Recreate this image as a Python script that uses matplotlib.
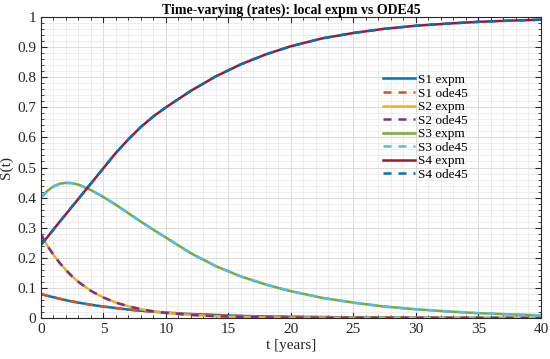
import matplotlib
matplotlib.use("Agg")
import matplotlib.pyplot as plt
from matplotlib.ticker import MultipleLocator, FuncFormatter

plt.rcParams['font.family'] = ['Liberation Serif', 'DejaVu Serif']

# time grid (years) and the four states
t = [0, 0.5, 1, 1.5, 2, 2.5, 3, 4, 5, 6, 7, 8, 9, 10, 12, 14, 16, 18, 20,
     22.5, 25, 27.5, 30, 32.5, 35, 37.5, 40]

s1 = [0.080, 0.074, 0.069, 0.064, 0.059, 0.055, 0.051, 0.044, 0.038, 0.033,
      0.028, 0.024, 0.021, 0.018, 0.013, 0.010, 0.007, 0.005, 0.004,
      0.003, 0.002, 0.0015, 0.001, 0.0008, 0.0006, 0.0004, 0.0003]
s2 = [0.278, 0.241, 0.210, 0.183, 0.159, 0.138, 0.120, 0.090, 0.068, 0.051,
      0.039, 0.029, 0.022, 0.017, 0.010, 0.006, 0.004, 0.002, 0.0015,
      0.001, 0.0007, 0.0005, 0.0004, 0.0003, 0.0002, 0.0002, 0.0001]
s3 = [0.400, 0.422, 0.437, 0.446, 0.449, 0.448, 0.443, 0.425, 0.402, 0.376,
      0.348, 0.320, 0.293, 0.267, 0.215, 0.172, 0.138, 0.111, 0.089,
      0.067, 0.051, 0.038, 0.029, 0.022, 0.016, 0.012, 0.009]
s4 = [0.243, 0.268, 0.294, 0.320, 0.345, 0.371, 0.396, 0.447, 0.498, 0.549,
      0.594, 0.635, 0.670, 0.700, 0.755, 0.803, 0.843, 0.876, 0.903,
      0.929, 0.947, 0.961, 0.971, 0.978, 0.984, 0.988, 0.991]

series = [s1, s2, s3, s4]
names = ["S1", "S2", "S3", "S4"]
solid_colors = ["#0072BD", "#EDB120", "#77AC30", "#A2142F"]
dash_colors = ["#D95319", "#7E2F8E", "#4DBEEE", "#0072BD"]

fig = plt.figure(figsize=(5.5, 3.59), dpi=100)
ax = fig.add_axes([0.0745, 0.1142, 0.909, 0.8384])

lw = 1.8
for s, name, c1, c2 in zip(series, names, solid_colors, dash_colors):
    ax.plot(t, s, color=c1, lw=lw, label=name + " expm")
    ax.plot(t, s, color=c2, lw=lw, dashes=(3.2, 2.8), label=name + " ode45")

ax.set_xlim(0, 40)
ax.set_ylim(0, 1)
ax.xaxis.set_major_locator(MultipleLocator(5))
ax.xaxis.set_minor_locator(MultipleLocator(1))
ax.yaxis.set_major_locator(MultipleLocator(0.1))
ax.yaxis.set_minor_locator(MultipleLocator(0.02))
ax.yaxis.set_major_formatter(FuncFormatter(lambda v, p: "%g" % round(v, 2)))

ax.grid(True, which="major", color="#d6d6d6", lw=0.6)
ax.grid(True, which="minor", color="#e8e8e8", lw=0.5)
ax.set_axisbelow(True)

ax.tick_params(which="both", direction="in", top=True, right=True,
               colors="#262626", labelsize=11)
ax.tick_params(which="major", length=4, width=0.8, pad=3.5)
ax.tick_params(which="minor", length=2.2, width=0.6)
for sp in ax.spines.values():
    sp.set_color("#262626")
    sp.set_linewidth(0.8)

ax.set_xlabel("t [years]", fontsize=11, color="#262626", labelpad=2)
ax.set_ylabel("S(t)", fontsize=11, color="#262626", labelpad=3)
ax.set_title("Time-varying (rates): local expm vs ODE45", fontsize=10,
             fontweight="bold", pad=2)

ax.legend(loc="upper left", bbox_to_anchor=(0.679, 0.82), frameon=False,
          fontsize=9.5, handlelength=2.4, handletextpad=0.25,
          labelspacing=0.1, borderpad=0.2, borderaxespad=0)

fig.savefig("out.png", dpi=100)
